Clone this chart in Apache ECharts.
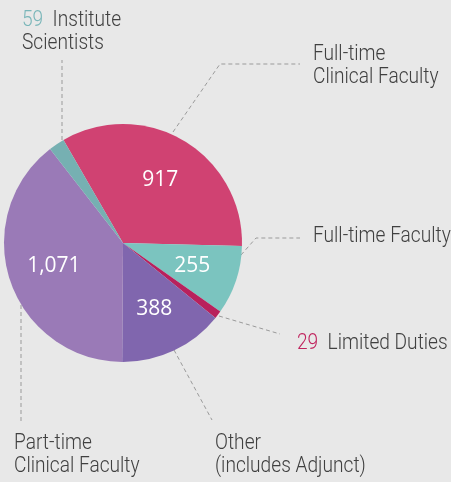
<!DOCTYPE html>
<html>
<head>
<meta charset="utf-8">
<script src="https://cdn.jsdelivr.net/npm/echarts@6/dist/echarts.min.js"></script>
<style>
  html, body { margin: 0; padding: 0; background: #e8e8e8; }
  #chart { width: 451px; height: 482px; }
</style>
</head>
<body>
<div id="chart"></div>
<script>
// faculty counts, clockwise from the top
var categories = ['Full-time Clinical Faculty', 'Full-time Faculty', 'Limited Duties',
                  'Other (includes Adjunct)', 'Part-time Clinical Faculty', 'Institute Scientists'];
var counts = [917, 255, 29, 388, 1071, 59];
var sliceColors = ['#d04272', '#7bc4bf', '#b8215c', '#8066ae', '#9a7ab7', '#76b0b2'];

var chart = echarts.init(document.getElementById('chart'));

var pieData = categories.map(function (c, i) {
  return { name: c, value: counts[i], itemStyle: { color: sliceColors[i] } };
});
// same data again, transparent, only to carry the value labels a bit further out
var labelData = categories.map(function (c, i) {
  return { name: c, value: counts[i], label: { show: counts[i] > 100 } };
});

var textFont = '300 22px Roboto, sans-serif';
var lineStyle = { stroke: '#9a9a9a', lineWidth: 1, lineDash: [4, 3], fill: null };

// narrow light captions: Roboto squeezed horizontally
function note(x, y, text, rich) {
  return {
    type: 'text', x: x, y: y, scaleX: 0.87, silent: true,
    style: {
      text: text, fill: '#404040', font: textFont,
      lineHeight: 23, verticalAlign: 'top', rich: rich || {}
    }
  };
}
function leader(points) {
  return { type: 'polyline', silent: true, shape: { points: points }, style: lineStyle };
}

chart.setOption({
  backgroundColor: '#e8e8e8',
  animation: false,
  series: [
    {
      type: 'pie',
      center: [123, 243],
      radius: [0, 119],
      startAngle: 120,
      clockwise: true,
      silent: true,
      label: { show: false },
      labelLine: { show: false },
      data: pieData
    },
    {
      type: 'pie',
      center: [123, 243],
      radius: [10, 130],
      startAngle: 120,
      clockwise: true,
      silent: true,
      itemStyle: { color: 'rgba(0,0,0,0)' },
      label: {
        position: 'inside',
        color: '#ffffff',
        fontFamily: '"Open Sans", sans-serif',
        fontSize: 21,
        formatter: function (p) { return p.value.toLocaleString('en-US'); }
      },
      labelLine: { show: false },
      data: labelData
    }
  ],
  graphic: [
    leader([[62, 140], [62, 60]]),
    leader([[173, 132], [220, 64], [300, 64]]),
    leader([[241, 255], [256, 238], [300, 238]]),
    leader([[219, 316], [280, 334]]),
    leader([[174, 350], [212, 420]]),
    leader([[21, 305], [21, 422]]),

    note(22, 9, '{a|59}  Institute\nScientists', { a: { fill: '#7ab6b9', font: textFont } }),
    note(313, 43, 'Full-time\nClinical Faculty'),
    note(313, 225, 'Full-time Faculty'),
    note(297, 332, '{b|29}  Limited Duties', { b: { fill: '#c0245e', font: textFont } }),
    note(215, 432, 'Other\n(includes Adjunct)'),
    note(14, 432, 'Part-time\nClinical Faculty')
  ]
});
</script>
</body>
</html>
